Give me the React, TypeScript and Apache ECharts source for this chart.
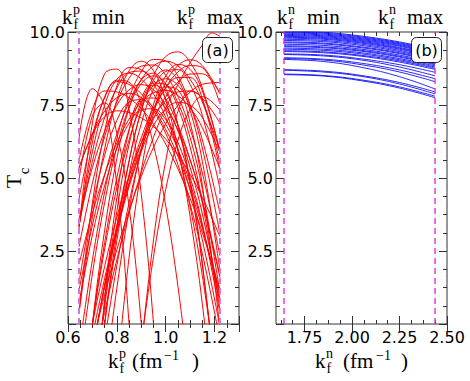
import React, { useEffect, useRef } from "react";
import * as echarts from "echarts";

// ---- data ----
const KP = [0.645, 0.7, 0.75, 0.8, 0.85, 0.9, 0.95, 1.0, 1.05, 1.1, 1.15, 1.222];
const kpBounds = [0.645, 1.222];
const knBounds = [1.642, 2.437];

const tcProton: (number | null)[][] = [
  [6.35, 8.06, 7.44, 4.75, 0, -6.82, null, null, null, null, null, null],
  [3.27, 6.89, 8.57, 8.73, 7.35, 4.44, 0, -5.97, null, null, null, null],
  [4.92, 7.13, 7.57, 6.53, 4.01, 0, -5.49, null, null, null, null, null],
  [3.31, 6.23, 7.78, 8.3, 8.2, 7.89, 7.38, 6.66, 5.74, 4.61, 3.28, 1.0],
  [3.37, 5.9, 7.49, 8.38, 8.59, 8.39, 7.88, 7.08, 5.97, 4.57, 2.88, -0.09],
  [0.4, 4.15, 6.6, 8.15, 8.78, 8.71, 8.35, 7.72, 6.81, 5.63, 4.17, 1.59],
  [3.36, 5.57, 7.07, 8.08, 8.61, 8.66, 8.23, 7.31, 5.91, 4.02, 1.65, -2.61],
  [0.34, 3.67, 6.0, 7.67, 8.67, 9.0, 8.67, 7.67, 6.0, 3.67, 0.68, -4.8],
  [2.65, 4.83, 6.41, 7.6, 8.41, 8.83, 8.87, 8.52, 7.79, 6.68, 5.17, 2.34],
  [-1.59, 1.72, 4.16, 6.06, 7.42, 8.23, 8.5, 8.23, 7.42, 6.06, 4.16, 0.48],
  [-0.9, 2.2, 4.52, 6.36, 7.74, 8.64, 9.06, 9.01, 8.49, 7.5, 6.03, 3.09],
  [null, -3.83, 0, 3.13, 5.57, 7.31, 8.35, 8.7, 8.35, 7.31, 5.57, 1.84],
  [null, -2.65, 0.61, 3.36, 5.59, 7.3, 8.49, 9.16, 9.32, 8.96, 8.08, 5.9],
  [null, null, null, -1.72, 2.28, 5.25, 7.2, 8.12, 8.02, 6.89, 4.74, -0.16],
  [null, null, -2.01, 1.23, 3.89, 5.99, 7.53, 8.49, 8.89, 8.72, 7.98, 5.92],
  [null, -0.97, 1.36, 3.36, 5.03, 6.38, 7.39, 8.08, 8.44, 8.44, 7.71, 5.26],
  [null, null, null, null, null, -0.82, 2.88, 5.58, 7.28, 7.98, 7.68, 5.49],
  [null, -0.41, 1.56, 3.29, 4.78, 6.02, 7.02, 7.78, 8.29, 8.56, 8.57, 7.89],
  [null, null, null, null, null, -0.64, 2.3, 4.61, 6.29, 7.35, 7.79, 7.32],
  [null, -3.85, 0.84, 4.33, 6.62, 7.7, 7.74, 7.37, 6.66, 5.61, 4.23, 1.65],
  [null, -3.25, 0.73, 3.86, 6.15, 7.59, 8.18, 7.93, 6.83, 4.88, 2.08, -3.43],
  [5.34, 6.53, 7.29, 7.75, 7.9, 7.75, 7.29, 6.53, 5.46, 4.09, 2.41, -0.54],
  [2.05, 3.8, 5.12, 6.2, 7.02, 7.6, 7.92, 8.0, 7.82, 7.4, 6.72, 5.31],
  [null, -0.92, 1.28, 3.16, 4.7, 5.92, 6.8, 7.36, 7.59, 7.49, 7.07, 5.87],
  [4.28, 6.46, 7.74, 8.35, 8.28, 7.54, 6.13, 4.05, 1.29, -2.14, null, null],
  [1.15, 3.39, 5.1, 6.51, 7.6, 8.38, 8.84, 9.0, 8.84, 8.38, 7.6, 5.93],
  [-4.39, 0, 3.21, 5.67, 7.39, 8.36, 8.59, 8.06, 6.79, 4.78, 2.02, -3.27],
  [null, null, -0.54, 2.0, 4.16, 5.92, 7.29, 8.27, 8.85, 9.05, 8.85, 7.88],
  [null, -0.71, 1.01, 2.54, 3.89, 5.06, 6.05, 6.86, 7.49, 7.94, 8.21, 8.27],
  [5.6, 7.35, 7.98, 7.95, 7.74, 7.37, 6.84, 6.16, 5.31, 4.3, 3.13, 1.17],
  [-3.36, 0, 2.57, 4.67, 6.3, 7.47, 8.17, 8.4, 8.17, 7.47, 6.3, 3.8],
  [null, -3.4, 0, 2.85, 5.13, 6.86, 8.04, 8.65, 8.71, 8.2, 7.14, 4.64],
  [-3.73, 0, 2.79, 5.01, 6.66, 7.74, 8.25, 8.2, 7.57, 6.38, 4.61, 1.07],
  [3.59, 5.36, 6.6, 7.49, 8.02, 8.2, 8.02, 7.49, 6.6, 5.36, 3.77, 0.85],
  [0.72, 3.05, 4.74, 6.01, 6.87, 7.33, 7.37, 7.0, 6.22, 5.02, 3.42, 0.39],
  [-2.48, 0, 1.97, 3.66, 5.07, 6.2, 7.06, 7.65, 7.95, 7.98, 7.73, 6.88],
  [1.41, 4.01, 5.78, 6.97, 7.6, 7.68, 7.41, 6.84, 5.98, 4.82, 3.37, 0.75],
  [5.35, 6.49, 7.1, 7.3, 7.24, 7.06, 6.76, 6.33, 5.79, 5.13, 4.34, 3.0],
  [null, -0.91, 1.29, 3.2, 4.85, 6.21, 7.29, 8.1, 8.63, 8.85, 8.78, 7.53],
];

const tcProtonRiser: number[][] = [
  [0.7, -1.6], [0.75, 0.4], [0.8, 2.2], [0.85, 3.8], [0.9, 5.2], [0.95, 6.4],
  [1.0, 7.4], [1.05, 8.2], [1.1, 8.95], [1.15, 9.55], [1.19, 9.97], [1.222, 9.85],
];

const KN = [1.642, 1.85, 2.05, 2.25, 2.437];
const tcNeutron: number[][] = [
  [10.03, 9.99, 9.86, 9.66, 9.4],
  [10.0, 9.96, 9.83, 9.63, 9.37],
  [9.97, 9.93, 9.8, 9.6, 9.33],
  [9.94, 9.9, 9.77, 9.57, 9.3],
  [9.91, 9.87, 9.74, 9.54, 9.27],
  [9.88, 9.84, 9.71, 9.51, 9.24],
  [9.85, 9.81, 9.68, 9.47, 9.2],
  [9.82, 9.78, 9.65, 9.44, 9.17],
  [9.79, 9.75, 9.62, 9.41, 9.14],
  [9.75, 9.71, 9.58, 9.37, 9.1],
  [9.71, 9.67, 9.54, 9.33, 9.06],
  [9.66, 9.62, 9.49, 9.29, 9.02],
  [9.63, 9.59, 9.46, 9.26, 8.99],
  [9.58, 9.54, 9.41, 9.21, 8.95],
  [9.53, 9.49, 9.37, 9.17, 8.91],
  [9.5, 9.46, 9.34, 9.14, 8.88],
  [9.45, 9.41, 9.29, 9.09, 8.84],
  [9.41, 9.37, 9.25, 9.05, 8.8],
  [9.36, 9.32, 9.2, 9.01, 8.76],
  [9.33, 9.29, 9.17, 8.97, 8.72],
  [9.25, 9.21, 9.08, 8.88, 8.62],
  [9.23, 9.18, 9.04, 8.8, 8.5],
  [9.12, 9.07, 8.93, 8.7, 8.4],
  [9.09, 9.04, 8.88, 8.63, 8.3],
  [9.06, 8.99, 8.79, 8.47, 8.05],
  [8.71, 8.66, 8.51, 8.27, 7.95],
  [8.69, 8.63, 8.48, 8.22, 7.88],
  [8.56, 8.51, 8.36, 8.12, 7.8],
  [8.54, 8.49, 8.33, 8.08, 7.75],
];

const knMajorTicks = [1.75, 2.0, 2.25, 2.5];
const knMinorTicks = [1.625, 1.6875, 1.75, 1.8125, 1.875, 1.9375, 2.0, 2.0625, 2.125, 2.1875, 2.25, 2.3125, 2.375, 2.4375, 2.5];

// ---- styles ----
const AX = "#333";
const tickLabel = { color: "#000", fontSize: 16, fontFamily: "DejaVu Sans" };
const SERIF = '"Liberation Serif"';

function mathText(x: number, y: number, text: string, size: number, extra: any = {}) {
  return {
    type: "text",
    x,
    y,
    z: 100,
    ...extra,
    style: {
      text,
      font: `${size}px ${SERIF}`,
      fill: "#000",
      textAlign: extra.align || "left",
      textVerticalAlign: "middle",
    },
  };
}

// k_f^{sup} label at position (x, baseline)
function kfLabel(x: number, base: number, sup: string) {
  return [
    mathText(x, base - 7, "k", 21),
    mathText(x + 11, base - 14.5, sup, 14),
    mathText(x + 11.5, base + 0, "f", 14),
  ];
}

function buildOption() {
  const series: any[] = [];
  tcProton.forEach((vals) => {
    const data = KP.map((x, i) => (vals[i] == null ? null : [x, vals[i]])).filter((d) => d !== null);
    series.push({
      type: "line",
      xAxisIndex: 0,
      yAxisIndex: 0,
      data,
      symbol: "none",
      smooth: 0.4,
      silent: true,
      lineStyle: { color: "#ff0000", width: 1 },
      z: 2,
    });
  });
  series.push({
    type: "line",
    xAxisIndex: 0,
    yAxisIndex: 0,
    data: tcProtonRiser,
    symbol: "none",
    smooth: 0.4,
    silent: true,
    lineStyle: { color: "#ff0000", width: 1 },
    z: 2,
  });
  tcNeutron.forEach((vals) => {
    series.push({
      type: "line",
      xAxisIndex: 2,
      yAxisIndex: 2,
      data: KN.map((x, i) => [x, vals[i]]),
      symbol: "none",
      smooth: 0.4,
      silent: true,
      lineStyle: { color: "#0000ff", width: 0.85 },
      z: 2,
    });
  });
  kpBounds.forEach((b) => {
    series.push({
      type: "line",
      xAxisIndex: 0,
      yAxisIndex: 0,
      data: [[b, 0], [b, 10]],
      symbol: "none",
      silent: true,
      lineStyle: { color: "#cc77ee", width: 2, type: [6, 4] },
      z: 3,
    });
  });
  knBounds.forEach((b) => {
    series.push({
      type: "line",
      xAxisIndex: 2,
      yAxisIndex: 2,
      data: [[b, 0], [b, 10]],
      symbol: "none",
      silent: true,
      lineStyle: { color: "#dd22dd", width: 1.3, type: [6, 4] },
      z: 3,
    });
  });

  const tickMajor = { show: true, inside: true, length: 8, lineStyle: { color: AX, width: 1 } };
  const minor = { show: true, splitNumber: 4, length: 4, lineStyle: { color: AX, width: 1 } };
  const noLine = { show: false };

  const kpAxis = (pos: string, labels: boolean) => ({
    gridIndex: 0,
    type: "value",
    position: pos,
    min: 0.6,
    max: 1.3,
    interval: 0.2,
    axisLine: noLine,
    splitLine: noLine,
    axisTick: tickMajor,
    minorTick: minor,
    axisLabel: labels
      ? { ...tickLabel, margin: 5, formatter: (v: number) => v.toFixed(1) }
      : { show: false },
  });
  const knAxisMajor = (pos: string, labels: boolean) => ({
    gridIndex: 1,
    type: "value",
    position: pos,
    min: 1.6,
    max: 2.5,
    axisLine: noLine,
    splitLine: noLine,
    axisTick: { ...tickMajor, customValues: knMajorTicks },
    axisLabel: labels
      ? { ...tickLabel, margin: 5, customValues: knMajorTicks, formatter: (v: number) => v.toFixed(2) }
      : { show: false },
  });
  const knAxisMinor = (pos: string) => ({
    gridIndex: 1,
    type: "value",
    position: pos,
    min: 1.6,
    max: 2.5,
    axisLine: noLine,
    splitLine: noLine,
    axisTick: { show: true, inside: true, length: 4, lineStyle: { color: AX, width: 1 }, customValues: knMinorTicks },
    axisLabel: { show: false },
  });
  const tcAxis = (grid: number, pos: string, labels: boolean) => ({
    gridIndex: grid,
    type: "value",
    position: pos,
    min: 0,
    max: 10,
    interval: 2.5,
    axisLine: noLine,
    splitLine: noLine,
    axisTick: tickMajor,
    minorTick: minor,
    axisLabel: labels
      ? { ...tickLabel, margin: 3, formatter: (v: number) => (v === 0 ? "" : v.toFixed(1)) }
      : { show: false },
  });

  const graphic: any[] = [
    // top annotations
    ...kfLabel(62, 24, "p"),
    mathText(92, 17, "min", 21),
    ...kfLabel(177, 24, "p"),
    mathText(207, 17, "max", 21),
    ...kfLabel(277, 24, "n"),
    mathText(307, 17, "min", 21),
    ...kfLabel(378, 24, "n"),
    mathText(407, 17, "max", 21),
    // x-axis titles
    ...kfLabel(108, 368, "p"),
    mathText(132, 361, "(fm", 21),
    mathText(164, 355, "\u22121", 14),
    mathText(192, 361, ")", 21),
    ...kfLabel(315, 368, "n"),
    mathText(343, 361, "(fm", 21),
    mathText(376, 355, "\u22121", 14),
    mathText(401, 361, ")", 21),
    // y-axis title T_c
    mathText(13.5, 181.5, "T", 22, { rotation: Math.PI / 2, align: "center" }),
    mathText(24, 171, "c", 15, { rotation: Math.PI / 2, align: "center" }),
    // panel tags
    {
      type: "rect",
      z: 100,
      shape: { x: 202.5, y: 37.5, width: 30, height: 25, r: 5 },
      style: { fill: "#fff", stroke: "#222", lineWidth: 1 },
    },
    {
      type: "text",
      z: 101,
      x: 217.5,
      y: 50,
      style: { text: "(a)", font: '16px "DejaVu Sans"', fill: "#000", textAlign: "center", textVerticalAlign: "middle" },
    },
    {
      type: "rect",
      z: 100,
      shape: { x: 411.5, y: 37.5, width: 30, height: 25, r: 5 },
      style: { fill: "#fff", stroke: "#222", lineWidth: 1 },
    },
    {
      type: "text",
      z: 101,
      x: 426.5,
      y: 50,
      style: { text: "(b)", font: '16px "DejaVu Sans"', fill: "#000", textAlign: "center", textVerticalAlign: "middle" },
    },
  ];

  return {
    animation: false,
    backgroundColor: "#fff",
    grid: [
      { left: 68, top: 32, width: 171, height: 292, show: true, borderColor: AX, borderWidth: 1, backgroundColor: "transparent" },
      { left: 276, top: 32, width: 171, height: 292, show: true, borderColor: AX, borderWidth: 1, backgroundColor: "transparent" },
    ],
    xAxis: [
      kpAxis("bottom", true),
      kpAxis("top", false),
      knAxisMajor("bottom", true),
      knAxisMajor("top", false),
      knAxisMinor("bottom"),
      knAxisMinor("top"),
    ],
    yAxis: [
      tcAxis(0, "left", true),
      tcAxis(0, "right", false),
      tcAxis(1, "left", true),
      tcAxis(1, "right", false),
    ],
    series,
    graphic,
  };
}

export default function App() {
  const ref = useRef<HTMLDivElement>(null);
  useEffect(() => {
    document.body.style.margin = "0";
    const chart = echarts.init(ref.current!, undefined, { renderer: "svg" });
    chart.setOption(buildOption() as any);
    return () => chart.dispose();
  }, []);
  return <div ref={ref} style={{ width: 470, height: 381 }} />;
}
